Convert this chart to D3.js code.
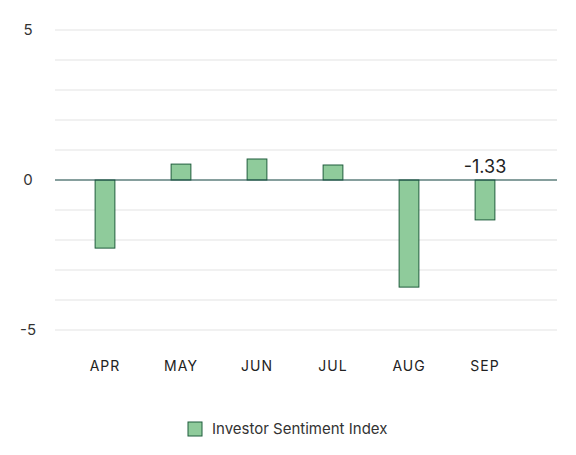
<!DOCTYPE html>
<html><head><meta charset="utf-8">
<script src="https://cdn.jsdelivr.net/npm/d3@7"></script>
<style>body{margin:0;background:#fff;font-family:Inter,"Noto Sans",sans-serif}</style>
</head><body><svg id="c" width="576" height="455"></svg>
<script>
const categories=["APR","MAY","JUN","JUL","AUG","SEP"];
const values=[-2.27,0.53,0.7,0.5,-3.57,-1.33];
const yTicks=[-5,0,5];
const seriesName="Investor Sentiment Index";
const svg=d3.select("#c");
const y=d3.scaleLinear().domain([-5,5]).range([330,30]);
const x=d3.scaleBand().domain(categories).range([67,523]).paddingInner(0.74).paddingOuter(0.37);
svg.append("g").selectAll("line").data(d3.range(-5,6)).join("line")
 .attr("x1",55).attr("x2",557).attr("y1",d=>y(d)).attr("y2",d=>y(d))
 .attr("stroke","#e3e3e3").attr("stroke-width",1);
svg.append("g").selectAll("text").data(yTicks).join("text")
 .attr("x",28).attr("y",d=>y(d)+5).attr("text-anchor","middle")
 .attr("font-size",15).attr("fill","#333").text(d=>d<0?"-"+Math.abs(d):d);
svg.append("g").selectAll("rect").data(values).join("rect")
 .attr("x",(d,i)=>x(categories[i])).attr("width",x.bandwidth())
 .attr("y",d=>y(Math.max(0,d))).attr("height",d=>Math.abs(y(d)-y(0)))
 .attr("fill","#8fcb9b").attr("stroke","#1f5c3c").attr("stroke-width",1);
svg.append("line").attr("x1",55).attr("x2",557).attr("y1",y(0)).attr("y2",y(0))
 .attr("stroke","#1d4e4a").attr("stroke-width",1.2);
svg.append("g").selectAll("text").data(categories).join("text")
 .attr("x",d=>x(d)+x.bandwidth()/2).attr("y",371).attr("text-anchor","middle")
 .attr("font-size",14).attr("letter-spacing","1px").attr("fill","#222").text(d=>d);
const si=5;
svg.append("text").attr("x",x(categories[si])+x.bandwidth()/2).attr("y",173)
 .attr("text-anchor","middle").attr("font-size",18).attr("fill","#222").text(values[si].toFixed(2));
svg.append("rect").attr("x",188).attr("y",422).attr("width",14).attr("height",14)
 .attr("fill","#8fcb9b").attr("stroke","#1f5c3c");
svg.append("text").attr("x",212).attr("y",434).attr("font-size",15).attr("fill","#333").text(seriesName);
</script></body></html>
